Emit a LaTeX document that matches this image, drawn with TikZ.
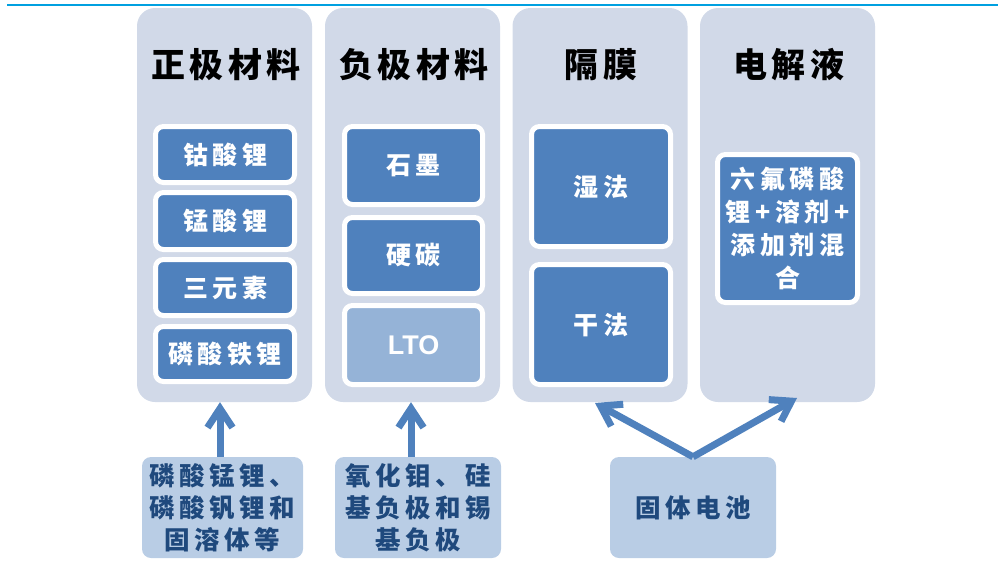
\documentclass[tikz,border=0pt]{standalone}
\usepackage{fontspec}
\usetikzlibrary{arrows.meta}
\setmainfont{Liberation Sans}
\newfontfamily\cjk[LetterSpace=18]{Noto Sans CJK SC}
\newfontfamily\cjkt[LetterSpace=12]{Noto Sans CJK SC}
\definecolor{colbg}{HTML}{D1D9E8}
\definecolor{boxblue}{HTML}{4F81BD}
\definecolor{ltoblue}{HTML}{95B3D7}
\definecolor{botbg}{HTML}{B9CDE5}
\definecolor{darktext}{HTML}{1F497D}
\definecolor{topblue}{HTML}{00A0E0}
\tikzset{
  colbox/.style={fill=colbg, rounded corners=18pt, minimum width=175pt, minimum height=394pt, inner sep=0pt},
  coltitle/.style={font={\cjkt\bfseries\fontsize{34pt}{36pt}\selectfont}, text=black, inner sep=0pt},
  inbox/.style={draw=white, line width=5pt, fill=boxblue, rounded corners=8pt, text=white,
    font={\cjk\bfseries\fontsize{25pt}{33pt}\selectfont}, inner sep=0pt, align=center},
  ltobox/.style={inbox, fill=ltoblue, font={\bfseries\fontsize{27pt}{30pt}\selectfont}},
  botbox/.style={fill=botbg, rounded corners=9pt, text=darktext, minimum width=166pt, minimum height=101pt,
    font={\cjk\bfseries\fontsize{25.5pt}{32pt}\selectfont}, inner sep=0pt, align=center},
  uparrow/.style={draw=boxblue, line width=7pt, -{Straight Barb[length=19pt, width=25pt]}},
}
\begin{document}
\begin{tikzpicture}[x=1pt, y=-1pt]
\useasboundingbox (0,0) rectangle (998,560);
\draw[topblue, line width=2pt] (7,5) -- (998,5);

% columns
\node[colbox] (c1) at (224.5,205) {};
\node[colbox] (c2) at (412.5,205) {};
\node[colbox] (c3) at (600,205) {};
\node[colbox] (c4) at (787.5,205) {};

% titles
\node[coltitle] (t1) at (226,65) {正极材料};
\node[coltitle] (t2) at (414,65) {负极材料};
\node[coltitle] (t3) at (601,65) {隔膜};
\node[coltitle] (t4) at (789,65) {电解液};

% cathode
\node[inbox, minimum width=139pt, minimum height=56pt] (a1) at (225,154.5) {钴酸锂};
\node[inbox, minimum width=139pt, minimum height=57pt] (a2) at (225,221) {锰酸锂};
\node[inbox, minimum width=139pt, minimum height=56pt] (a3) at (225,287.5) {三元素};
\node[inbox, minimum width=139pt, minimum height=55pt] (a4) at (225,354) {磷酸铁锂};

% anode
\node[inbox, minimum width=138pt, minimum height=78pt] (b1) at (413.5,165.5) {石墨};
\node[inbox, minimum width=138pt, minimum height=76pt] (b2) at (413.5,255.5) {硬碳};
\node[ltobox, minimum width=138pt, minimum height=79pt] (b3) at (413.5,345) {LTO};

% separator
\node[inbox, minimum width=139pt, minimum height=120pt] (s1) at (601,186.5) {湿法};
\node[inbox, minimum width=139pt, minimum height=120pt] (s2) at (601,324.5) {干法};

% electrolyte
\node[inbox, minimum width=140pt, minimum height=148pt] (e1) at (787.5,228.5) {六氟磷酸\\锂+溶剂+\\添加剂混\\合};

% bottom boxes
\node[botbox, minimum width=161pt] (n1) at (222.5,507.5) {磷酸锰锂、\\磷酸钒锂和\\固溶体等};
\node[botbox] (n2) at (418,507.5) {氧化钼、硅\\基负极和锡\\基负极};
\node[botbox] (n3) at (693,507.5) {固体电池};

% arrows
\draw[uparrow] ([xshift=-2.5pt]n1.north) -- ([xshift=-2.5pt]n1.north |- c1.south);
\draw[uparrow] ([xshift=-7pt]n2.north) -- ([xshift=-7pt]n2.north |- c2.south);
\coordinate (tipL) at (595,403);
\coordinate (tipR) at (797,398);
\draw[uparrow] (n3.north) -- (tipL);
\draw[uparrow] (n3.north) -- (tipR);
\end{tikzpicture}
\end{document}
